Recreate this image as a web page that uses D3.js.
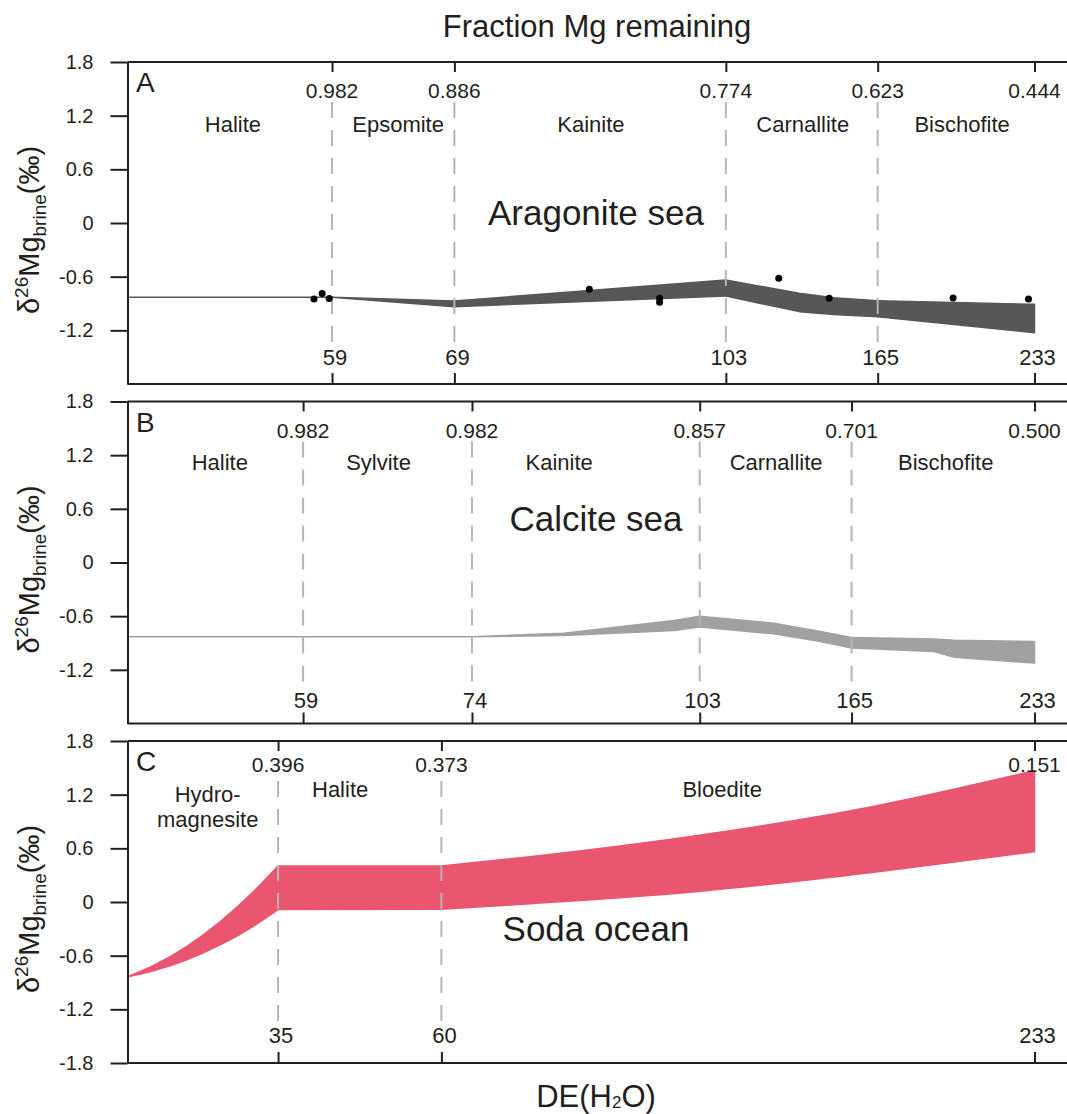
<!DOCTYPE html>
<html>
<head>
<meta charset="utf-8">
<script src="https://cdn.jsdelivr.net/npm/d3@7"></script>
<style>
  html, body { margin: 0; padding: 0; background: #fff; }
  svg { display: block; }
  text { font-family: "Liberation Sans", Arial, Helvetica, sans-serif; fill: #231f20; }
</style>
</head>
<body>
<svg id="chart" width="1067" height="1114"></svg>
<script>
// ---------- data ----------
// DE(H2O) at which each brine state is modelled, with lower / upper bound of δ26Mg (‰)
const startDE = 1;

// A: Aragonite sea
const aragoniteDE   = [1, 59, 69, 103, 133, 147, 165, 233];
const aragoniteLow  = [-0.83, -0.83, -0.935, -0.816, -0.991, -1.022, -1.047, -1.226];
const aragoniteHigh = [-0.83, -0.83, -0.872, -0.637, -0.786, -0.835, -0.869, -0.909];
const aragoniteStages   = ["Halite", "Epsomite", "Kainite", "Carnallite", "Bischofite"];
const aragoniteBounds   = [59, 69, 103, 165, 233];
const aragoniteFraction = ["0.982", "0.886", "0.774", "0.623", "0.444"];
const aragoniteLabelDE  = [30.9, 64.4, 86.1, 134.4, 201.6];
const aragoniteSampleDE  = [53.9, 56.2, 58.2, 85.9, 94.7, 94.7, 124.6, 145.2, 197.7, 230.4];
const aragoniteSampleD26 = [-0.851, -0.787, -0.843, -0.742, -0.842, -0.887, -0.618, -0.842, -0.839, -0.850];

// B: Calcite sea
const calciteDE   = [1, 59, 74, 85.7, 99.7, 103, 133.2, 152.3, 165, 195.6, 203, 233];
const calciteLow  = [-0.83, -0.83, -0.83, -0.816, -0.76, -0.722, -0.797, -0.883, -0.957, -0.995, -1.058, -1.125];
const calciteHigh = [-0.83, -0.83, -0.83, -0.79, -0.648, -0.600, -0.678, -0.771, -0.839, -0.856, -0.870, -0.883];
const calciteStages   = ["Halite", "Sylvite", "Kainite", "Carnallite", "Bischofite"];
const calciteBounds   = [59, 74, 103, 165, 233];
const calciteFraction = ["0.982", "0.982", "0.857", "0.701", "0.500"];
const calciteLabelDE  = [31.5, 65.7, 85.1, 134.2, 200];

// C: Soda ocean
const sodaDE   = [1, 6.9, 14.4, 21.9, 29.4, 35, 60, 85.8, 135.7, 185.6, 233];
const sodaLow  = [-0.835, -0.769, -0.647, -0.48, -0.271, -0.085, -0.082, -0.02, 0.12, 0.33, 0.562];
const sodaHigh = [-0.835, -0.709, -0.495, -0.221, 0.113, 0.402, 0.402, 0.506, 0.749, 1.066, 1.468];
const sodaStages   = ["Hydro-\nmagnesite", "Halite", "Bloedite"];
const sodaBounds   = [35, 60, 233];
const sodaFraction = ["0.396", "0.373", "0.151"];
const sodaLabelDE  = [19.1, 44.5, 141.9];

const yTicksAB = [1.8, 1.2, 0.6, 0, -0.6, -1.2];
const yTicksC  = [1.8, 1.2, 0.6, 0, -0.6, -1.2, -1.8];

// ---------- layout ----------
const L = 127.5, R = 1034.5, EDGE = 1067;
const PANEL_H = 322;
const tops = [62, 401.5, 741];
const INK = "#231f20";

const panels = [
  { key: "A", sea: "Aragonite sea", seaAt: -0.02,
    de: aragoniteDE, lo: aragoniteLow, hi: aragoniteHigh,
    stages: aragoniteStages, bounds: aragoniteBounds, frac: aragoniteFraction, labelDE: aragoniteLabelDE,
    samples: aragoniteSampleDE.map((d, i) => ({ de: d, v: aragoniteSampleD26[i] })),
    color: "#575757", curve: d3.curveLinear, yTicks: yTicksAB,
    span: [0, 0.2255, 0.3604, 0.6597, 0.8271, 1],
    fracDy: 36, stageDy: 70, bottomDy: 19 },
  { key: "B", sea: "Calcite sea", seaAt: 0.35,
    de: calciteDE, lo: calciteLow, hi: calciteHigh,
    stages: calciteStages, bounds: calciteBounds, frac: calciteFraction, labelDE: calciteLabelDE,
    samples: [],
    color: "#a0a1a0", curve: d3.curveLinear, yTicks: yTicksAB,
    span: [0, 0.1936, 0.3798, 0.6309, 0.7983, 1],
    fracDy: 36, stageDy: 68.5, bottomDy: 16 },
  { key: "C", sea: "Soda ocean", seaAt: -0.44,
    de: sodaDE, lo: sodaLow, hi: sodaHigh,
    stages: sodaStages, bounds: sodaBounds, frac: sodaFraction, labelDE: sodaLabelDE,
    samples: [],
    color: "#ea5670", curve: d3.curveMonotoneX, yTicks: yTicksC,
    span: [0, 0.166, 0.3461, 1],
    fracDy: 31, stageDy: 56, bottomDy: 20 }
];

const svg = d3.select("#chart");
const fmt = d => d === 0 ? "0" : d.toFixed(1);

panels.forEach((p, i) => {
  const top = tops[i], bottom = top + PANEL_H;
  const edges = [startDE, ...p.bounds];
  const x = d3.scaleLinear().domain(edges).range(p.span.map(f => L + f * (R - L)));
  const y = d3.scaleLinear().domain([-1.8, 1.8]).range([bottom, top]);
  const g = svg.append("g").attr("class", "panel-" + p.key);

  // model envelope, one area per mineral stage
  const pts = p.de.map((d, k) => ({ de: d, lo: p.lo[k], hi: p.hi[k] }));
  const area = d3.area().x(d => x(d.de)).y0(d => y(d.lo)).y1(d => y(d.hi)).curve(p.curve);
  for (let s = 0; s < edges.length - 1; s++) {
    const seg = pts.filter(d => d.de >= edges[s] && d.de <= edges[s + 1]);
    if (seg.length < 2) continue;
    g.append("path").attr("d", area(seg))
      .attr("fill", p.color).attr("stroke", p.color)
      .attr("stroke-width", 1.5).attr("stroke-linejoin", "round");
  }

  // stage boundaries
  g.selectAll("line.stage").data(p.bounds.slice(0, -1)).join("line")
    .attr("class", "stage")
    .attr("x1", d => x(d)).attr("x2", d => x(d))
    .attr("y1", top + 40).attr("y2", top + 285)
    .attr("stroke", "#b5b5b5").attr("stroke-width", 2)
    .attr("stroke-dasharray", "16,12");

  // measured brines
  g.selectAll("circle").data(p.samples).join("circle")
    .attr("cx", d => x(d.de)).attr("cy", d => y(d.v)).attr("r", 3.5)
    .attr("fill", "#000");

  // frame
  g.append("line").attr("x1", L).attr("x2", EDGE).attr("y1", top).attr("y2", top)
    .attr("stroke", INK).attr("stroke-width", 2);
  g.append("line").attr("x1", L).attr("x2", EDGE).attr("y1", bottom).attr("y2", bottom)
    .attr("stroke", INK).attr("stroke-width", 2);

  const yAxis = g.append("g").attr("transform", `translate(${L},0)`)
    .call(d3.axisLeft(y).tickValues(p.yTicks).tickSize(17).tickSizeOuter(0).tickPadding(17).tickFormat(fmt))
    .attr("color", INK)
    .attr("font-family", '"Liberation Sans", Arial, sans-serif').attr("font-size", 20);
  yAxis.selectAll("path, line").attr("stroke-width", 2);
  yAxis.selectAll("text").attr("fill", INK);

  const topTicks = g.append("g").attr("transform", `translate(0,${top})`)
    .call(d3.axisBottom(x).tickValues(p.bounds).tickSize(10).tickFormat(""))
    .attr("color", INK);
  topTicks.select(".domain").remove();
  topTicks.selectAll("line").attr("stroke-width", 2);

  const botTicks = g.append("g").attr("transform", `translate(0,${bottom})`)
    .call(d3.axisTop(x).tickValues(p.bounds).tickSize(11).tickFormat(""))
    .attr("color", INK);
  botTicks.select(".domain").remove();
  botTicks.selectAll("line").attr("stroke-width", 2);

  // fraction of Mg remaining at each boundary
  g.selectAll("text.frac").data(p.bounds).join("text")
    .attr("class", "frac")
    .attr("x", d => x(d)).attr("y", top + p.fracDy)
    .attr("text-anchor", "middle").attr("font-size", 21)
    .text((d, k) => p.frac[k]);

  // DE(H2O) at each boundary
  g.selectAll("text.de").data(p.bounds).join("text")
    .attr("class", "de")
    .attr("x", d => x(d) + 3).attr("y", bottom - p.bottomDy)
    .attr("text-anchor", "middle").attr("font-size", 22)
    .text(d => d);

  // mineral names
  p.stages.forEach((name, k) => {
    const lines = name.split("\n");
    const t = g.append("text")
      .attr("x", x(p.labelDE[k]))
      .attr("y", top + p.stageDy + (lines.length > 1 ? 5 : 0))
      .attr("text-anchor", "middle").attr("font-size", 22);
    lines.forEach((ln, j) => {
      t.append("tspan").attr("x", x(p.labelDE[k])).attr("dy", j === 0 ? 0 : 25).text(ln);
    });
  });

  // panel letter and sea type
  g.append("text").attr("x", 136).attr("y", top + 30).attr("font-size", 28).text(p.key);
  g.append("text").attr("x", L + 0.5165 * (R - L)).attr("y", y(p.seaAt))
    .attr("text-anchor", "middle").attr("font-size", 35).text(p.sea);

  // y-axis title
  const yc = (top + bottom) / 2 + 7;
  const yt = g.append("text")
    .attr("transform", `translate(39,${yc}) rotate(-90)`)
    .attr("text-anchor", "middle").attr("font-size", 29);
  yt.append("tspan").text("δ");
  yt.append("tspan").attr("font-size", 19).attr("dy", -11).text("26");
  yt.append("tspan").attr("dy", 11).text("Mg");
  yt.append("tspan").attr("font-size", 19).attr("dy", 7).text("brine");
  yt.append("tspan").attr("dy", -7).text("(‰)");
});

// shared titles
svg.append("text").attr("x", 597).attr("y", 37)
  .attr("text-anchor", "middle").attr("font-size", 31).text("Fraction Mg remaining");

const xt = svg.append("text").attr("x", 596).attr("y", 1107)
  .attr("text-anchor", "middle").attr("font-size", 31);
xt.append("tspan").text("DE(H");
xt.append("tspan").attr("font-size", 17).attr("dy", 1).text("2");
xt.append("tspan").attr("dy", -1).text("O)");
</script>
</body>
</html>
